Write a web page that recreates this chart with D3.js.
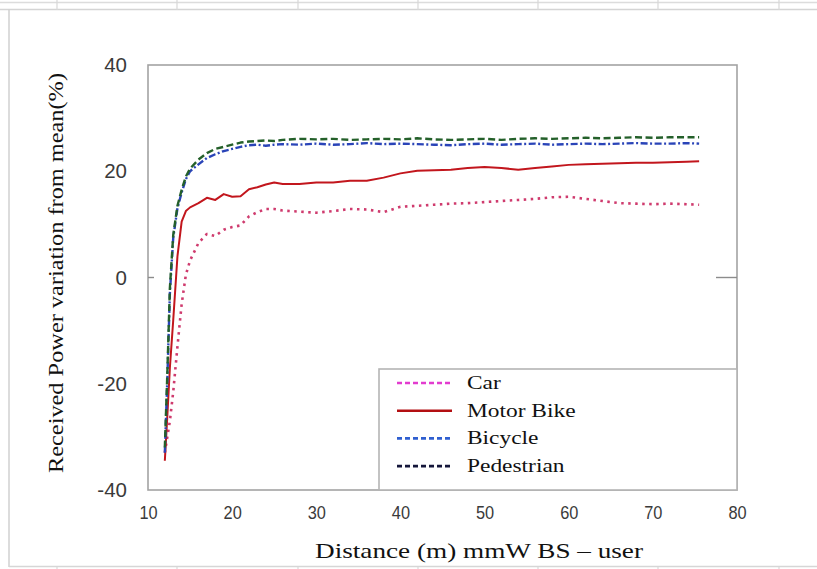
<!DOCTYPE html>
<html>
<head>
<meta charset="utf-8">
<script src="https://cdn.jsdelivr.net/npm/d3@7"></script>
<style>
  html, body { margin: 0; padding: 0; background: #fff; }
  svg { display: block; }
</style>
</head>
<body>
<svg id="chart" width="817" height="569"></svg>
<script>
// Distance from the mmW base station (m)
const distances = [12, 12.3, 12.6, 13, 13.5, 14, 14.5, 15, 16, 17,
  18, 19, 20, 21, 22, 23, 24, 25, 26, 28,
  30, 32, 34, 36, 38, 40, 42, 44, 46, 48,
  50, 52, 54, 56, 58, 60, 62, 64, 66, 68,
  70, 72, 74, 75.5];

// Received power variation from mean (%) per user type
const car = [-33, -30, -27, -21.5, -13, -5, 0.5, 3.2, 6.5, 8.2,
  7.8, 9, 9.5, 9.8, 11.5, 12.3, 12.9, 12.9, 12.6, 12.4,
  12.2, 12.5, 12.9, 12.8, 12.3, 13.3, 13.5, 13.7, 13.9, 14,
  14.2, 14.4, 14.6, 14.8, 15.1, 15.2, 14.8, 14.4, 14, 13.9,
  13.8, 13.9, 13.8, 13.7];
const motorBike = [-34.5, -26, -17, -8, 4, 10.5, 12.5, 13.2, 14, 15,
  14.6, 15.7, 15.2, 15.3, 16.6, 17, 17.5, 17.9, 17.6, 17.6,
  17.9, 17.9, 18.2, 18.2, 18.8, 19.6, 20.1, 20.2, 20.3, 20.6,
  20.8, 20.6, 20.3, 20.6, 20.9, 21.2, 21.3, 21.4, 21.5, 21.6,
  21.6, 21.7, 21.8, 21.9];
const bicycle = [-33, -19, -3, 7.5, 13, 16, 18.5, 20, 21.3, 22.5,
  23.2, 23.8, 24.2, 24.6, 24.9, 25, 24.8, 25, 25.1, 25,
  25.2, 25, 25.1, 25.3, 25.1, 25.2, 25.1, 25, 24.9, 25.1,
  25.2, 25, 25.1, 25.2, 25, 25.1, 25.2, 25.1, 25.2, 25.3,
  25.2, 25.2, 25.3, 25.2];
const pedestrian = [-32, -18, -2, 8, 13.5, 16.5, 19, 20.5, 22.2, 23.4,
  24.2, 24.6, 25, 25.4, 25.6, 25.7, 25.8, 25.7, 25.9, 26.1,
  26, 26.1, 25.9, 26, 26.1, 26, 26.2, 26, 25.9, 26,
  26.1, 25.9, 26.1, 26.2, 26.1, 26.2, 26.3, 26.2, 26.3, 26.4,
  26.3, 26.4, 26.4, 26.4];

const seriesNames = ["Car", "Motor Bike", "Bicycle", "Pedestrian"];
const xTicks = [10, 20, 30, 40, 50, 60, 70, 80];
const yTicks = [-40, -20, 0, 20, 40];

// Styles: plotted line and legend swatch
const styles = {
  "Car":        { color: "#cf3b6e", dash: "2.5,4.5", width: 2.6, legendColor: "#e23ccf", legendDash: "5,3" },
  "Motor Bike": { color: "#c2161d", dash: null,       width: 2,   legendColor: "#b30f12", legendDash: null },
  "Bicycle":    { color: "#2a44b8", dash: "7,2.5,2,2.5", width: 2.4, legendColor: "#2f5fd0", legendDash: "5,3" },
  "Pedestrian": { color: "#24602a", dash: "7,3.5",    width: 2.4, legendColor: "#14163a", legendDash: "5,3" }
};
const seriesValues = { "Car": car, "Motor Bike": motorBike, "Bicycle": bicycle, "Pedestrian": pedestrian };
const drawOrder = ["Car", "Motor Bike", "Bicycle", "Pedestrian"];

const svg = d3.select("#chart");
const W = 817, H = 569;
const plot = { left: 148, right: 737, top: 65, bottom: 490 };

// Spreadsheet-like frame around the chart
const frame = svg.append("g");
frame.append("line").attr("x1", 0).attr("x2", W).attr("y1", 2.5).attr("y2", 2.5)
  .attr("stroke", "#dcdcdc").attr("stroke-width", 1.5);
frame.append("line").attr("x1", 0).attr("x2", W).attr("y1", 9.5).attr("y2", 9.5)
  .attr("stroke", "#d4d4d4").attr("stroke-width", 1.5);
[57, 177, 298, 418, 538, 658, 779].forEach(x => {
  frame.append("line").attr("x1", x).attr("x2", x).attr("y1", 0).attr("y2", 10)
    .attr("stroke", "#d8d8d8").attr("stroke-width", 1.2);
  frame.append("line").attr("x1", x).attr("x2", x).attr("y1", 566).attr("y2", 569)
    .attr("stroke", "#d8d8d8").attr("stroke-width", 1.2);
});
frame.append("line").attr("x1", 9).attr("x2", 9).attr("y1", 9.5).attr("y2", 567)
  .attr("stroke", "#d0d0d0").attr("stroke-width", 1.5);
frame.append("line").attr("x1", 9).attr("x2", W).attr("y1", 566.5).attr("y2", 566.5)
  .attr("stroke", "#d6d6d6").attr("stroke-width", 1.5);

const x = d3.scaleLinear().domain([10, 80]).range([plot.left, plot.right]);
const y = d3.scaleLinear().domain([-40, 40]).range([plot.bottom, plot.top]);

// Plot area border
svg.append("rect")
  .attr("x", plot.left).attr("y", plot.top)
  .attr("width", plot.right - plot.left).attr("height", plot.bottom - plot.top)
  .attr("fill", "none").attr("stroke", "#a3a3a3").attr("stroke-width", 1.6);

// Zero markers on both sides
svg.append("line").attr("x1", plot.left).attr("x2", plot.left + 6)
  .attr("y1", y(0)).attr("y2", y(0)).attr("stroke", "#8c8c8c").attr("stroke-width", 1.4);
svg.append("line").attr("x1", plot.right - 21).attr("x2", plot.right)
  .attr("y1", y(0)).attr("y2", y(0)).attr("stroke", "#8c8c8c").attr("stroke-width", 1.4);

// Axes (labels only; the border is drawn above)
const yAxis = d3.axisLeft(y).tickValues(yTicks).tickSize(0).tickPadding(21)
  .tickFormat(d => String(d));
const gy = svg.append("g").attr("transform", `translate(${plot.left},0)`).call(yAxis);
gy.select(".domain").remove();
gy.selectAll("text")
  .attr("font-family", "'Liberation Sans', Arial, sans-serif")
  .attr("font-size", 20.5).attr("fill", "#3a3a3a");

const xAxis = d3.axisBottom(x).tickValues(xTicks).tickSize(0).tickPadding(16)
  .tickFormat(d => String(d));
const gx = svg.append("g").attr("transform", `translate(0,${plot.bottom})`).call(xAxis);
gx.select(".domain").remove();
gx.selectAll("text")
  .attr("font-family", "'Liberation Sans', Arial, sans-serif")
  .attr("font-size", 19).attr("fill", "#3a3a3a")
  .each(function () {
    const w = this.getComputedTextLength();
    d3.select(this).attr("textLength", w * 0.86).attr("lengthAdjust", "spacingAndGlyphs");
  });

// Series lines
const line = d3.line()
  .x((d, i) => x(distances[i]))
  .y(d => y(d));

const gLines = svg.append("g");
drawOrder.forEach(name => {
  const s = styles[name];
  gLines.append("path")
    .datum(seriesValues[name])
    .attr("d", line)
    .attr("fill", "none")
    .attr("stroke", s.color)
    .attr("stroke-width", s.width)
    .attr("stroke-dasharray", s.dash)
    .attr("stroke-linejoin", "round");
});

// Legend box
const legend = { left: 379, top: 369, right: plot.right, bottom: plot.bottom };
svg.append("rect")
  .attr("x", legend.left).attr("y", legend.top)
  .attr("width", legend.right - legend.left).attr("height", legend.bottom - legend.top)
  .attr("fill", "#fff").attr("stroke", "#b5b5b5").attr("stroke-width", 1.6);

const serif = "'Liberation Serif', 'Times New Roman', serif";
seriesNames.forEach((name, i) => {
  const s = styles[name];
  const cy = 383 + i * 27.7;
  svg.append("line")
    .attr("x1", 397).attr("x2", 452).attr("y1", cy).attr("y2", cy)
    .attr("stroke", s.legendColor).attr("stroke-width", 2.6)
    .attr("stroke-dasharray", s.legendDash);
  svg.append("text")
    .attr("x", 467).attr("y", cy + 6)
    .attr("font-family", serif).attr("font-size", 19.5).attr("fill", "#111")
    .text(name)
    .each(function () {
      const w = this.getComputedTextLength();
      d3.select(this).attr("textLength", w * 1.2).attr("lengthAdjust", "spacingAndGlyphs");
    });
});

// Axis titles
svg.append("text")
  .attr("x", (315 + 643) / 2).attr("y", 558)
  .attr("text-anchor", "middle")
  .attr("font-family", serif).attr("font-size", 21).attr("fill", "#111")
  .attr("textLength", 328).attr("lengthAdjust", "spacingAndGlyphs")
  .text("Distance (m) mmW BS \u2013 user");

svg.append("text")
  .attr("transform", "translate(63,273) rotate(-90)")
  .attr("text-anchor", "middle")
  .attr("font-family", serif).attr("font-size", 20).attr("fill", "#111")
  .attr("textLength", 400).attr("lengthAdjust", "spacingAndGlyphs")
  .text("Received Power variation from mean(%)");
</script>
</body>
</html>
